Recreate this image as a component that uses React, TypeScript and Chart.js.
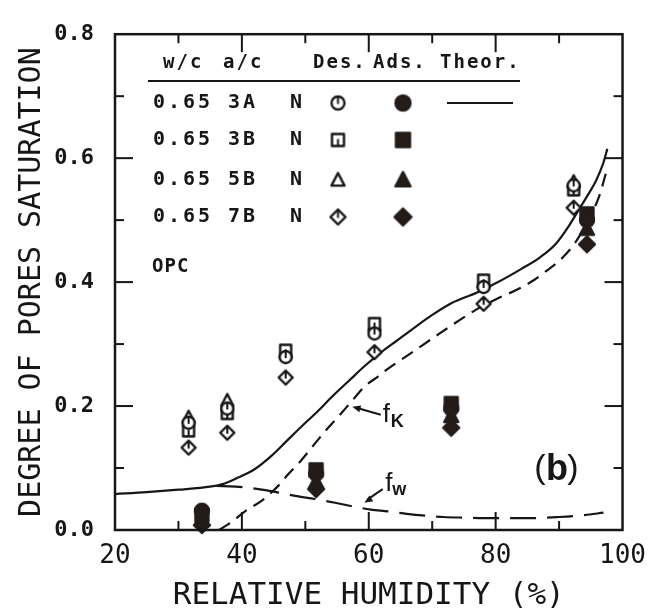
import React, { useEffect, useRef } from 'react';
import { Chart, registerables } from 'chart.js';

Chart.register(...registerables);

const INK = '#161616';
const FILL_INK = '#231c19';

// ---- axis ticks ----
const xLabelTicks = [20, 40, 60, 80, 100];
const yLabelTicks = [0, 0.2, 0.4, 0.6, 0.8];
const xTickMarks = [30, 40, 50, 60, 70, 80, 90];
const yTickMarks = [0.1, 0.2, 0.3, 0.4, 0.5, 0.6, 0.7];

// ---- legend table ----
const mixWC = ['0.65', '0.65', '0.65', '0.65'];
const mixAC = ['3A', '3B', '5B', '7B'];
const mixCure = ['N', 'N', 'N', 'N'];
const shapes = ['circle', 'square', 'triangle', 'diamond'];

// ---- desorption (hollow markers) ----
const desRH = [31.6, 37.7, 46.9, 60.9, 78.1, 92.3];
const des3A = [0.173, 0.196, 0.279, 0.317, 0.392, 0.556];
const des3B = [0.16, 0.188, 0.29, 0.333, 0.403, 0.549];
const des5B = [0.182, 0.209, 0.287, 0.33, 0.4, 0.562];
const des7B = [0.133, 0.157, 0.246, 0.287, 0.365, 0.52];

// ---- adsorption (filled markers) ----
const adsRH = [33.7, 51.7, 73.0, 94.4];
const ads3A = [0.031, 0.091, 0.196, 0.5];
const ads3B = [0.024, 0.097, 0.204, 0.51];
const ads5B = [0.016, 0.078, 0.184, 0.486];
const ads7B = [0.008, 0.066, 0.165, 0.461];

// ---- theoretical curves ----
const theorRH = [20, 25, 30, 35, 37, 39.5, 42, 44.7, 47, 49.4, 52, 54, 57, 59.4, 62, 64.5, 67, 70, 73, 77, 80, 84, 87, 89.5, 91.5, 93, 94.5, 95.8, 97, 97.6];
const theorSat = [0.058, 0.061, 0.065, 0.07, 0.074, 0.085, 0.098, 0.12, 0.143, 0.167, 0.192, 0.213, 0.242, 0.265, 0.287, 0.306, 0.325, 0.347, 0.366, 0.383, 0.398, 0.421, 0.44, 0.462, 0.49, 0.515, 0.54, 0.563, 0.593, 0.615];

const fkRH = [36.4, 38.4, 40.6, 43.1, 45.8, 47.3, 49.4, 51, 53, 55.2, 57.5, 59.4, 61.5, 63, 66.6, 71.3, 77, 80, 83.8, 86, 88, 90.6, 92.7, 94.7, 96.3, 97.5];
const fkSat = [0.0, 0.013, 0.031, 0.047, 0.072, 0.09, 0.113, 0.133, 0.158, 0.183, 0.21, 0.232, 0.248, 0.26, 0.285, 0.318, 0.356, 0.372, 0.39, 0.403, 0.418, 0.44, 0.466, 0.502, 0.538, 0.58];

const fwRH = [36, 39, 42.6, 45, 48.4, 51.5, 54.7, 57.5, 60.3, 63, 66, 69, 71.8, 75, 79.7, 85, 90, 94, 97];
const fwSat = [0.071, 0.07, 0.066, 0.062, 0.055, 0.05, 0.044, 0.038, 0.033, 0.03, 0.026, 0.023, 0.021, 0.02, 0.019, 0.019, 0.021, 0.024, 0.028];

function makeMarker(kind: string, filled: boolean, size: number): HTMLCanvasElement {
  const c = document.createElement('canvas');
  const pad = 2;
  c.width = size + pad * 2;
  c.height = size + pad * 2;
  const g = c.getContext('2d') as CanvasRenderingContext2D;
  const cx = c.width / 2;
  const cy = c.height / 2;
  const r = size / 2;
  g.lineWidth = 2.4;
  g.lineJoin = 'round';
  g.strokeStyle = filled ? FILL_INK : INK;
  g.fillStyle = filled ? FILL_INK : '#fff';
  g.beginPath();
  if (kind === 'circle') {
    g.arc(cx, cy, r - 1, 0, Math.PI * 2);
  } else if (kind === 'square') {
    g.rect(cx - r + 1.5, cy - r + 1.5, size - 3, size - 3);
  } else if (kind === 'triangle') {
    g.moveTo(cx, cy - r + 0.5);
    g.lineTo(cx + r - 1, cy + r * 0.75);
    g.lineTo(cx - r + 1, cy + r * 0.75);
    g.closePath();
  } else {
    g.moveTo(cx, cy - r);
    g.lineTo(cx + r, cy);
    g.lineTo(cx, cy + r);
    g.lineTo(cx - r, cy);
    g.closePath();
  }
  g.fill();
  g.stroke();
  if (!filled) {
    g.lineWidth = 2;
    g.beginPath();
    if (kind === 'circle') {
      g.moveTo(cx, cy - r + 1);
      g.lineTo(cx, cy + 1);
    } else if (kind === 'square') {
      g.moveTo(cx, cy + r - 2);
      g.lineTo(cx, cy - 1);
    } else if (kind === 'diamond') {
      g.moveTo(cx, cy - r + 1);
      g.lineTo(cx, cy + 1);
    }
    g.stroke();
  }
  return c;
}

export default function App() {
  const ref = useRef<HTMLCanvasElement | null>(null);

  useEffect(() => {
    const canvas = ref.current;
    if (!canvas) return;

    const hollow = shapes.map((s) => makeMarker(s, false, 14));
    const solid = shapes.map((s) => makeMarker(s, true, 16));
    const legendHollow = shapes.map((s) => makeMarker(s, false, 15));
    const legendSolid = shapes.map((s) => makeMarker(s, true, 17));

    const desSeries = [des3A, des3B, des5B, des7B];
    const adsSeries = [ads3A, ads3B, ads5B, ads7B];

    const markerSets: any[] = [];
    adsSeries.forEach((vals, i) => {
      markerSets.push({
        label: 'Ads. ' + mixAC[i],
        data: adsRH.map((x, j) => ({ x, y: vals[j] })),
        pointStyle: solid[i],
        pointRadius: 7,
        showLine: false,
        clip: false,
      });
    });
    desSeries.forEach((vals, i) => {
      markerSets.push({
        label: 'Des. ' + mixAC[i],
        data: desRH.map((x, j) => ({ x, y: vals[j] })),
        pointStyle: hollow[i],
        pointRadius: 7,
        showLine: false,
        clip: false,
      });
    });

    const curve = (label: string, xs: number[], ys: number[], dash: number[]) => ({
      label,
      data: xs.map((x, j) => ({ x, y: ys[j] })),
      showLine: true,
      borderColor: INK,
      borderWidth: 2.2,
      borderDash: dash,
      pointRadius: 0,
      cubicInterpolationMode: 'monotone',
      fill: false,
    });

    const line = (ctx: CanvasRenderingContext2D, x1: number, y1: number, x2: number, y2: number) => {
      ctx.beginPath();
      ctx.moveTo(x1, y1);
      ctx.lineTo(x2, y2);
      ctx.stroke();
    };

    const arrowHead = (ctx: CanvasRenderingContext2D, fx: number, fy: number, tx: number, ty: number) => {
      const ang = Math.atan2(ty - fy, tx - fx);
      const L = 9;
      ctx.beginPath();
      ctx.moveTo(tx, ty);
      ctx.lineTo(tx - L * Math.cos(ang - 0.4), ty - L * Math.sin(ang - 0.4));
      ctx.lineTo(tx - L * Math.cos(ang + 0.4), ty - L * Math.sin(ang + 0.4));
      ctx.closePath();
      ctx.fill();
    };

    const overlay = {
      id: 'overlay',
      afterDraw(chart: any) {
        const { ctx, chartArea: a } = chart;
        const xs = chart.scales.x;
        const ys = chart.scales.y;
        ctx.save();
        ctx.strokeStyle = INK;
        ctx.fillStyle = INK;
        // frame
        ctx.lineWidth = 2.5;
        ctx.strokeRect(a.left, a.top, a.right - a.left, a.bottom - a.top);
        // inward ticks
        ctx.lineWidth = 2;
        xTickMarks.forEach((v) => {
          const px = xs.getPixelForValue(v);
          const L = v % 20 === 0 ? 18 : 9;
          line(ctx, px, a.bottom, px, a.bottom - L);
          line(ctx, px, a.top, px, a.top + L);
        });
        yTickMarks.forEach((v) => {
          const py = ys.getPixelForValue(v);
          const major = Math.round(v * 10) % 2 === 0;
          const L = major ? 18 : 9;
          line(ctx, a.left, py, a.left + L, py);
          line(ctx, a.right, py, a.right - L, py);
        });

        // legend table
        ctx.textBaseline = 'middle';
        ctx.textAlign = 'left';
        (ctx as any).letterSpacing = '2px';
        ctx.font = 'bold 19px "DejaVu Sans Mono"';
        const hy = 63;
        ctx.fillText('w/c', 163, hy);
        ctx.fillText('a/c', 223, hy);
        ctx.fillText('Des.', 313, hy);
        ctx.fillText('Ads.', 373, hy);
        ctx.fillText('Theor.', 440, hy);
        ctx.lineWidth = 2.2;
        line(ctx, 148, 81, 520, 81);
        const rowY = [103, 140, 180, 217];
        ctx.font = 'bold 20px "DejaVu Sans Mono"';
        (ctx as any).letterSpacing = '3px';
        rowY.forEach((ry, i) => {
          ctx.fillText(mixWC[i], 153, ry);
          ctx.fillText(mixAC[i], 228, ry);
          ctx.fillText(mixCure[i], 290, ry);
          const h = legendHollow[i];
          ctx.drawImage(h, 338 - h.width / 2, ry - h.height / 2);
          const s = legendSolid[i];
          ctx.drawImage(s, 403 - s.width / 2, ry - s.height / 2);
        });
        line(ctx, 447, rowY[0], 513, rowY[0]);
        ctx.font = 'bold 19px "DejaVu Sans Mono"';
        (ctx as any).letterSpacing = '1px';
        ctx.fillText('OPC', 152, 267);
        (ctx as any).letterSpacing = '0px';

        // f_K annotation
        const fkx = xs.getPixelForValue(62.2);
        const fky = ys.getPixelForValue(0.183);
        ctx.font = '26px "Liberation Sans"';
        ctx.fillText('f', fkx, fky - 2);
        ctx.font = 'bold 18px "Liberation Sans"';
        ctx.fillText('K', fkx + 8, fky + 5);
        const k1x = xs.getPixelForValue(61.9), k1y = ys.getPixelForValue(0.186);
        const k2x = xs.getPixelForValue(57.4), k2y = ys.getPixelForValue(0.199);
        ctx.lineWidth = 2;
        line(ctx, k1x, k1y, k2x + 4, k2y + 1);
        arrowHead(ctx, k1x, k1y, k2x, k2y);

        // f_w annotation
        const fwx = xs.getPixelForValue(62.6);
        const fwy = ys.getPixelForValue(0.072);
        ctx.font = '26px "Liberation Sans"';
        ctx.fillText('f', fwx, fwy - 2);
        ctx.font = 'bold 18px "Liberation Sans"';
        ctx.fillText('w', fwx + 7, fwy + 5);
        const w1x = xs.getPixelForValue(62.2), w1y = ys.getPixelForValue(0.066);
        const w2x = xs.getPixelForValue(59.3), w2y = ys.getPixelForValue(0.044);
        ctx.beginPath();
        ctx.moveTo(w1x, w1y);
        ctx.quadraticCurveTo(w1x - 6, w1y + 4, w2x + 3, w2y - 3);
        ctx.stroke();
        arrowHead(ctx, w1x - 6, w1y + 6, w2x, w2y);

        // (b)
        const bx = xs.getPixelForValue(89.5);
        const by = ys.getPixelForValue(0.099);
        ctx.textAlign = 'center';
        ctx.font = '34px "Liberation Sans"';
        ctx.fillText('(', bx - 16, by);
        ctx.fillText(')', bx + 17, by);
        ctx.font = 'bold 36px "Liberation Sans"';
        ctx.fillText('b', bx + 1, by + 1);
        ctx.restore();
      },
    };

    const chart = new Chart(canvas, {
      type: 'scatter',
      data: {
        datasets: [
          ...markerSets,
          curve('Theor.', theorRH, theorSat, []),
          curve('fK', fkRH, fkSat, [13, 8]),
          curve('fw', fwRH, fwSat, [26, 11]),
        ],
      },
      options: {
        animation: false,
        responsive: false,
        events: [],
        layout: { padding: { top: 20, right: 28, left: 0, bottom: 0 } },
        plugins: {
          legend: { display: false },
          tooltip: { enabled: false },
        },
        scales: {
          x: {
            type: 'linear',
            min: 20,
            max: 100,
            border: { display: false },
            grid: { display: false, drawTicks: false },
            afterBuildTicks: (s: any) => {
              s.ticks = xLabelTicks.map((v) => ({ value: v }));
            },
            afterFit: (s: any) => {
              s.height = 82;
            },
            ticks: {
              autoSkip: false,
              maxRotation: 0,
              padding: 11,
              color: INK,
              font: { family: '"DejaVu Sans Mono"', size: 26 },
              callback: (v: any) => String(v),
            },
            title: {
              display: true,
              text: 'RELATIVE HUMIDITY (%)',
              color: INK,
              font: { family: '"DejaVu Sans Mono"', size: 31, lineHeight: 1 },
              padding: { top: 0, bottom: 1 },
            },
          },
          y: {
            type: 'linear',
            min: 0,
            max: 0.8,
            border: { display: false },
            grid: { display: false, drawTicks: false },
            afterBuildTicks: (s: any) => {
              s.ticks = yLabelTicks.map((v) => ({ value: v }));
            },
            afterFit: (s: any) => {
              s.width = 115;
            },
            ticks: {
              autoSkip: false,
              padding: 21,
              color: INK,
              font: { family: '"DejaVu Sans Mono"', size: 22, weight: 'bold' },
              callback: (v: any) => Number(v).toFixed(1),
            },
            title: {
              display: true,
              text: 'DEGREE OF PORES SATURATION',
              color: INK,
              font: { family: '"DejaVu Sans Mono"', size: 30, lineHeight: 1 },
              padding: { top: 17, bottom: 0 },
            },
          },
        },
      },
      plugins: [overlay],
    } as any);

    return () => {
      chart.destroy();
    };
  }, []);

  return (
    <div style={{ position: 'absolute', left: 0, top: 0, width: 657, height: 612, background: '#fff' }}>
      <canvas ref={ref} width={657} height={612} style={{ width: 657, height: 612, display: 'block' }} />
    </div>
  );
}
